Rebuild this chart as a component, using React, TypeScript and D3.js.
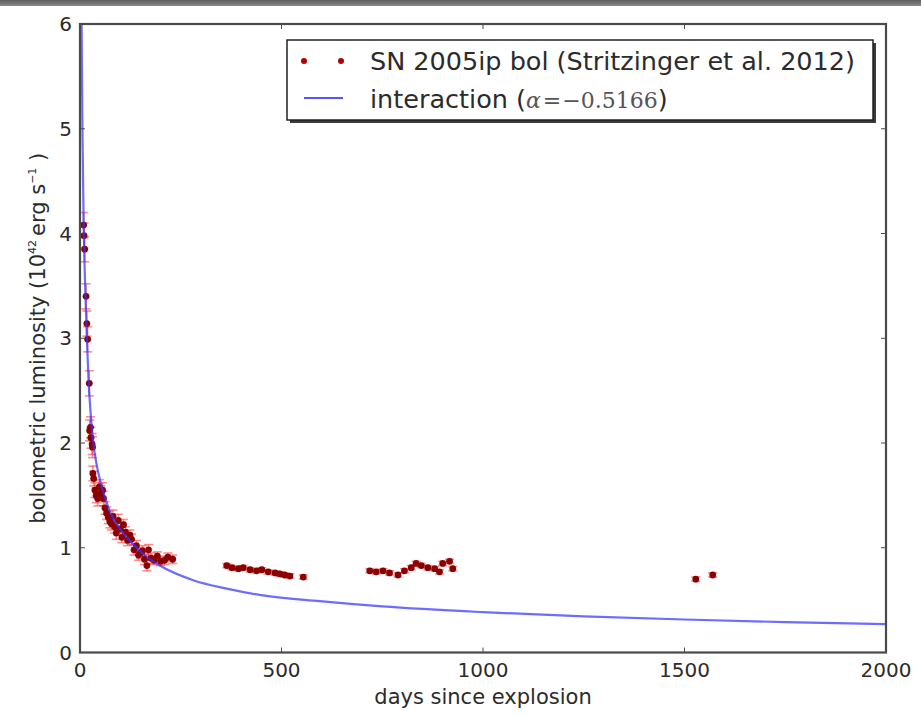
import React from "react";
import * as d3 from "d3";

// Observed bolometric light curve points (days, luminosity 1e42 erg/s, error)
const obsDays = [
  9, 10, 11.5, 15, 17, 19, 23,
  24, 26, 27, 30, 31,
  32, 34, 37, 40, 44, 48, 52, 56, 58, 62, 66, 70, 74, 78, 82, 86, 90, 95, 100,
  104, 108, 113, 118, 124, 128, 134, 140, 145, 150, 155, 160, 166, 170, 176,
  184, 192, 200, 210, 218, 230,
  364, 377, 393, 405, 422, 438, 451, 467, 484, 496, 508, 521, 554,
  719, 735, 752, 768, 789, 805, 822, 834, 847, 863, 880, 892, 900, 917, 925,
  1528, 1570,
];
const obsLum = [
  4.08, 3.98, 3.85, 3.4, 3.14, 2.99, 2.57,
  2.12, 2.15, 2.05, 1.99, 1.96,
  1.71, 1.66, 1.55, 1.5, 1.47, 1.58, 1.52, 1.55, 1.47, 1.38, 1.33, 1.29, 1.25, 1.23, 1.3, 1.2, 1.14, 1.26, 1.18,
  1.1, 1.22, 1.15, 1.07, 1.12, 1.08, 0.98, 1.02, 0.93, 0.95, 0.97, 0.89, 0.83, 0.98, 0.9,
  0.88, 0.92, 0.87, 0.88, 0.91, 0.89,
  0.83, 0.81, 0.8, 0.81, 0.79, 0.78, 0.79, 0.77, 0.76, 0.75, 0.74, 0.73, 0.72,
  0.78, 0.77, 0.78, 0.76, 0.74, 0.78, 0.81, 0.85, 0.83, 0.81, 0.8, 0.77, 0.85, 0.87, 0.8,
  0.7, 0.74,
];
const obsErr = [
  0.12, 0.12, 0.12, 0.12, 0.12, 0.12, 0.12,
  0.1, 0.1, 0.1, 0.1, 0.1,
  0.07, 0.07, 0.07, 0.07, 0.07, 0.07, 0.07, 0.07, 0.07, 0.06, 0.06, 0.06, 0.06, 0.06, 0.06, 0.06, 0.06, 0.06, 0.06,
  0.05, 0.05, 0.05, 0.05, 0.05, 0.05, 0.05, 0.05, 0.05, 0.05, 0.05, 0.05, 0.05, 0.05, 0.05,
  0.04, 0.04, 0.04, 0.04, 0.04, 0.04,
  0.02, 0.02, 0.02, 0.02, 0.02, 0.02, 0.02, 0.02, 0.02, 0.02, 0.02, 0.02, 0.02,
  0.02, 0.02, 0.02, 0.02, 0.02, 0.02, 0.02, 0.02, 0.02, 0.02, 0.02, 0.02, 0.02, 0.02, 0.02,
  0.02, 0.02,
];

// Interaction model curve
const curveDays = [3, 4, 6, 9, 12, 17, 21, 27, 33, 40, 50, 62, 74, 90, 116, 157, 198, 281, 364, 446, 595, 750, 1000, 1250, 1500, 1750, 2000];
const curveLum = [6.6, 6.0, 5.0, 4.1, 3.6, 3.0, 2.62, 2.25, 2.0, 1.82, 1.64, 1.48, 1.35, 1.23, 1.1, 0.94, 0.83, 0.69, 0.61, 0.55, 0.49, 0.44, 0.385, 0.345, 0.315, 0.29, 0.27];

const xTicks = [0, 500, 1000, 1500, 2000];
const yTicks = [0, 1, 2, 3, 4, 5, 6];

const legendLabels = ["SN 2005ip bol (Stritzinger et al. 2012)", "interaction ("];

const W = 921;
const H = 717;
const L = 80;
const R = 886;
const T = 24;
const B = 652.5;

export default function App() {
  const x = d3.scaleLinear().domain([0, 2000]).range([L, R]);
  const y = d3.scaleLinear().domain([0, 6]).range([B, T]);
  const line = d3
    .line<number>()
    .x((d, i) => x(curveDays[i]))
    .y((d) => y(d))
    .curve(d3.curveMonotoneX);
  const sans = "'DejaVu Sans', Verdana, sans-serif";
  const serif = "'DejaVu Serif', 'Liberation Serif', serif";
  const txt = "#2b2b2b";
  const axisCol = "#4a4a4a";
  const cap = 4.5;

  return (
    <svg
      width={W}
      height={H}
      viewBox={`0 0 ${W} ${H}`}
      style={{ position: "absolute", left: 0, top: 0, background: "#fff" }}
    >
      <defs>
        <clipPath id="plotclip">
          <rect x={L} y={T} width={R - L} height={B - T} />
        </clipPath>
        <linearGradient id="topband" x1="0" x2="0" y1="0" y2="1">
          <stop offset="0" stopColor="#5e5e5e" />
          <stop offset="1" stopColor="#8a8a8a" />
        </linearGradient>
        <filter id="soft" x="-5%" y="-5%" width="110%" height="110%">
          <feGaussianBlur stdDeviation="0.6" />
        </filter>
      </defs>
      <rect x={0} y={0} width={W} height={H} fill="#fff" />
      <rect x={0} y={0} width={W} height={6} fill="url(#topband)" />

      {/* data */}
      <g clipPath="url(#plotclip)">
        <g stroke="rgba(255,30,30,0.5)" strokeWidth={1.6} filter="url(#soft)">
          {obsDays.map((d, i) => {
            const cx = x(d);
            const y0 = y(obsLum[i] - obsErr[i]);
            const y1 = y(obsLum[i] + obsErr[i]);
            return (
              <g key={i}>
                <line x1={cx} x2={cx} y1={y0} y2={y1} />
                <line x1={cx - cap} x2={cx + cap} y1={y0} y2={y0} />
                <line x1={cx - cap} x2={cx + cap} y1={y1} y2={y1} />
              </g>
            );
          })}
        </g>
        <g fill="#8b0000">
          {obsDays.map((d, i) => (
            <circle key={i} cx={x(d)} cy={y(obsLum[i])} r={3.4} />
          ))}
        </g>
        <path d={line(curveLum) || ""} fill="none" stroke="#3333ff" strokeOpacity={0.72} strokeWidth={2.2} />
      </g>

      {/* frame */}
      <rect x={L} y={T} width={R - L} height={B - T} fill="none" stroke={axisCol} strokeWidth={2.2} />
      {xTicks.map((t) => (
        <g key={"xt" + t}>
          <line x1={x(t)} x2={x(t)} y1={B} y2={B - 5} stroke={axisCol} strokeWidth={1} />
          <line x1={x(t)} x2={x(t)} y1={T} y2={T + 5} stroke={axisCol} strokeWidth={1} />
          <text x={x(t)} y={677} textAnchor="middle" fontFamily={sans} fontSize={20} fill={txt}>
            {t}
          </text>
        </g>
      ))}
      {yTicks.map((t) => (
        <g key={"yt" + t}>
          <line x1={L} x2={L + 5} y1={y(t)} y2={y(t)} stroke={axisCol} strokeWidth={1} />
          <line x1={R} x2={R - 5} y1={y(t)} y2={y(t)} stroke={axisCol} strokeWidth={1} />
          <text x={72} y={y(t)} dy="0.36em" textAnchor="end" fontFamily={sans} fontSize={20} fill={txt}>
            {t}
          </text>
        </g>
      ))}

      {/* axis labels */}
      <text x={(L + R) / 2} y={704} textAnchor="middle" fontFamily={sans} fontSize={21} fill={txt}>
        days since explosion
      </text>
      <text
        transform={`translate(45, ${(T + B) / 2}) rotate(-90)`}
        textAnchor="middle"
        fontFamily={sans}
        fontSize={21}
        fill={txt}
      >
        bolometric luminosity (10
        <tspan fontSize={11} dy={-9}>42</tspan>
        <tspan dy={9} dx={4}>erg s</tspan>
        <tspan fontSize={11} dy={-9}>−1</tspan>
        <tspan dy={9}> )</tspan>
      </text>

      {/* legend */}
      <rect x={290} y={43} width={586} height={80} fill="#3a3a3a" />
      <rect x={287} y={40} width={586} height={80} fill="#fff" stroke="#222" strokeWidth={1.5} />
      <circle cx={304} cy={61} r={3} fill="#b00000" />
      <circle cx={341} cy={61} r={3} fill="#b00000" />
      <line x1={304} x2={343} y1={98} y2={98} stroke="#5555ff" strokeWidth={2} />
      <text x={370} y={70} fontFamily={sans} fontSize={25.5} fill={txt}>
        {legendLabels[0]}
      </text>
      <text x={370} y={108} fontFamily={sans} fontSize={25.5} fill={txt}>
        {legendLabels[1]}
        <tspan fontFamily={serif} fontStyle="italic" fontSize={22} fill="#555">α</tspan>
        <tspan fontFamily={serif} fontSize={22} fill="#555" dx={2}>=</tspan>
        <tspan fontFamily={serif} fontSize={22} fill="#555" dx={1}>−0.5166</tspan>
        <tspan>)</tspan>
      </text>
    </svg>
  );
}
